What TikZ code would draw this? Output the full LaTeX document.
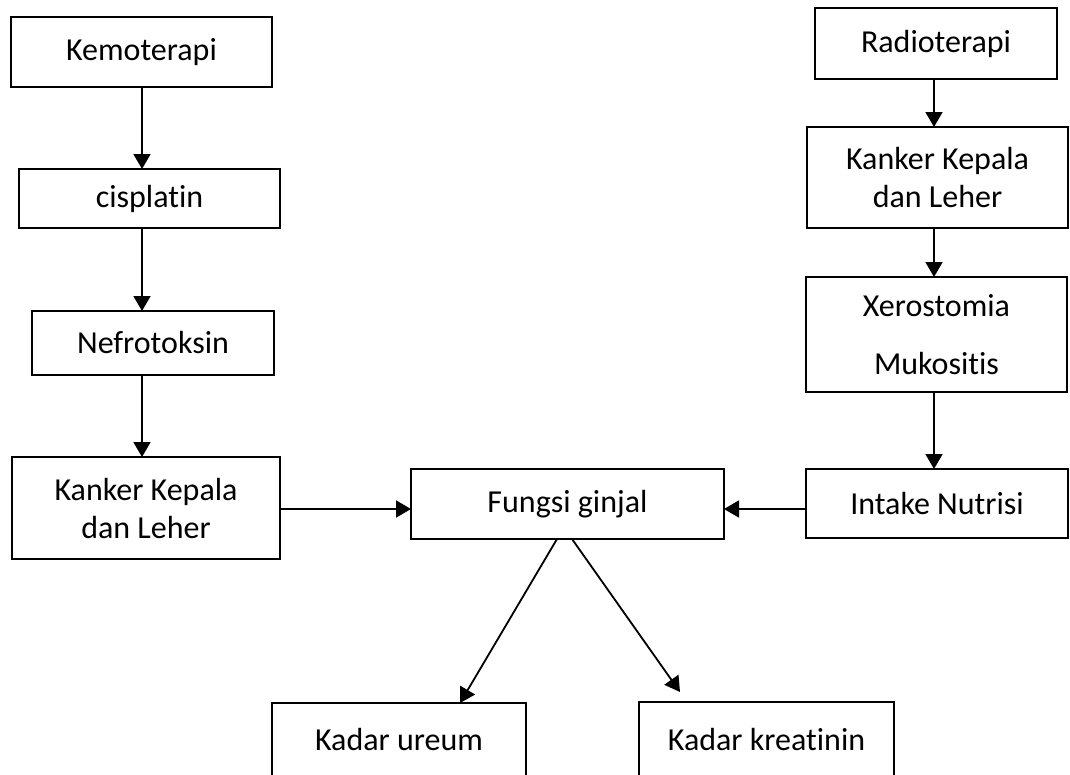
\documentclass[tikz,border=0pt]{standalone}
\usepackage{fontspec}
\setmainfont{Carlito}[Ligatures={NoCommon,NoContextual}]
\usetikzlibrary{arrows.meta}
\begin{document}
\begin{tikzpicture}[x=1pt,y=-1pt,
  box/.style={draw,line width=1.9pt,inner sep=0pt,outer sep=0pt,align=center,
    font=\fontsize{32}{38}\selectfont},
  arr/.style={line width=1.8pt,-{Triangle[width=17pt,length=15pt]}}]
\useasboundingbox (0,0) rectangle (1070,774);
% left column
\node[box,minimum width=261pt,minimum height=70pt] (kemo) at (141.5,52) {Kemoterapi};
\node[box,minimum width=261pt,minimum height=59pt] (cis) at (149.5,198.5) {cisplatin};
\node[box,minimum width=242pt,minimum height=64pt] (nef) at (153,343) {Nefrotoksin};
\node[box,minimum width=268pt,minimum height=102pt] (kkl) at (146,508) {Kanker Kepala\\dan Leher};
% right column
\node[box,minimum width=242pt,minimum height=71pt] (radio) at (936,43.5) {Radioterapi};
\node[box,minimum width=261pt,minimum height=101pt] (kkr) at (937.5,177.5) {Kanker Kepala\\dan Leher};
\node[box,minimum width=261pt,minimum height=115pt,font=\fontsize{32}{58}\selectfont] (xero) at (936.5,334.5) {Xerostomia\\Mukositis};
\node[box,minimum width=262pt,minimum height=69pt] (intake) at (937,503.5) {Intake Nutrisi};
% middle
\node[box,minimum width=313pt,minimum height=70pt] (fungsi) at (567.5,504) {Fungsi ginjal};
\node[box,minimum width=254pt,minimum height=73pt] (ureum) at (399,739.5) {Kadar ureum};
\node[box,minimum width=255pt,minimum height=74pt] (kreat) at (766.5,739) {Kadar kreatinin};
% helper coordinates
\coordinate (lx) at (142,0);
\coordinate (rx) at (934,0);
\coordinate (hy) at (0,509);
\coordinate (d1) at (557,0);
\coordinate (d2) at (572,0);
\coordinate (t1) at (460,0);
\coordinate (k2) at (680,692);
% connectors
\draw[arr] (kemo.south -| lx) -- (cis.north -| lx);
\draw[arr] (cis.south -| lx) -- (nef.north -| lx);
\draw[arr] (nef.south -| lx) -- (kkl.north -| lx);
\draw[arr] (radio.south -| rx) -- (kkr.north -| rx);
\draw[arr] (kkr.south -| rx) -- (xero.north -| rx);
\draw[arr] (xero.south -| rx) -- (intake.north -| rx);
\draw[arr] (kkl.east |- hy) -- (fungsi.west |- hy);
\draw[arr] (intake.west |- hy) -- (fungsi.east |- hy);
\draw[arr] (fungsi.south -| d1) -- (ureum.north -| t1);
\draw[arr] (fungsi.south -| d2) -- (k2);
\end{tikzpicture}
\end{document}
